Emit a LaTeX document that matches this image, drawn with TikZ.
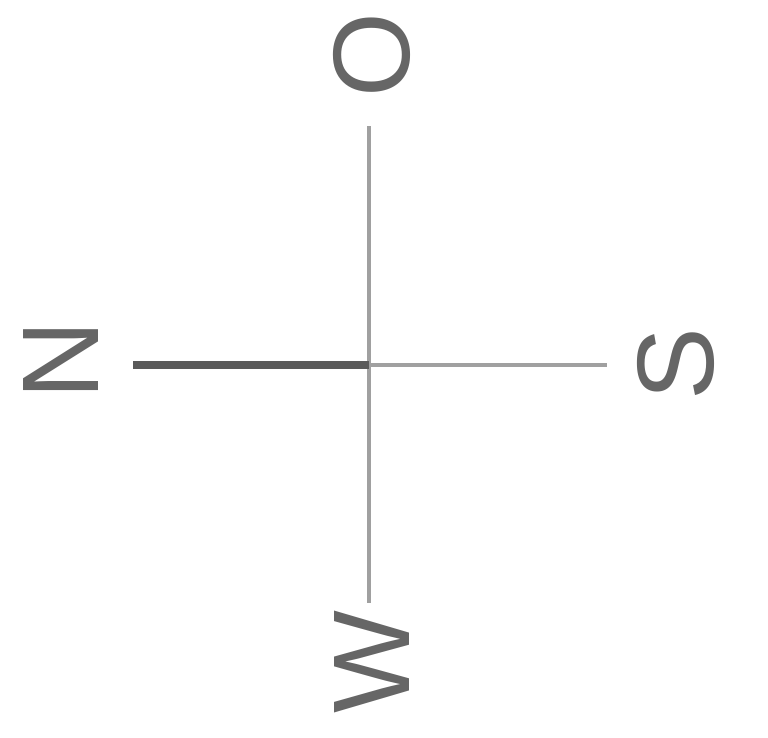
\documentclass[tikz,border=0pt]{standalone}
\usepackage{fontspec}
\setmainfont{Liberation Sans}
\definecolor{lettergray}{HTML}{666666}
\definecolor{thickgray}{HTML}{5A5A5A}
\definecolor{thingray}{HTML}{A0A0A0}
\tikzset{
  letter/.style={text=lettergray, inner sep=0pt, rotate=90, font=\fontsize{109}{109}\selectfont},
  thinline/.style={draw=thingray, line width=3.5pt},
  thickline/.style={draw=thickgray, line width=8pt},
}
\begin{document}
\begin{tikzpicture}[x=1pt,y=-1pt]
\useasboundingbox[fill=white] (0,0) rectangle (768,737);
\coordinate (c) at (369,365);
\coordinate (top) at (369,126);
\coordinate (bot) at (369,603);
\coordinate (left) at (133,365);
\coordinate (right) at (607,365);
\draw[thinline] (top) -- (bot);
\draw[thinline] (c) -- (right);
\draw[thickline] (left) -- (c);
\node[letter] (O) at (372,55) {O};
\node[letter] (N) at (61,360) {N};
\node[letter] (S) at (676,364) {S};
\node[letter] (W) at (372,662) {W};
\end{tikzpicture}
\end{document}
